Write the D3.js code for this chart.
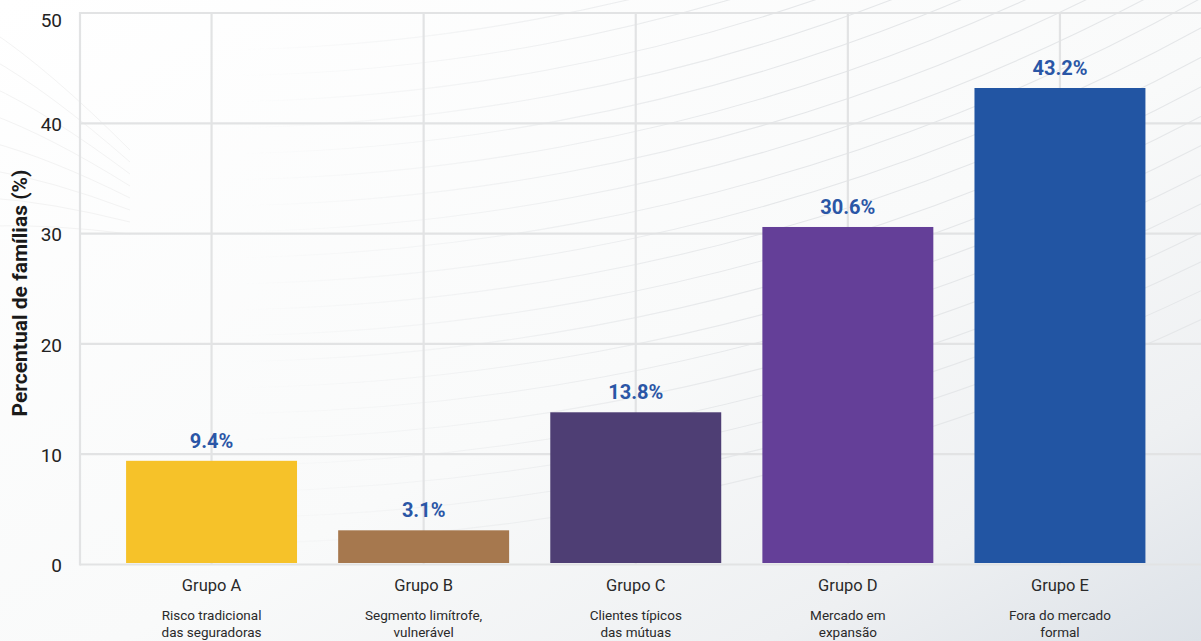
<!DOCTYPE html>
<html><head><meta charset="utf-8">
<script src="https://cdn.jsdelivr.net/npm/d3@7"></script>
<style>
html,body{margin:0;padding:0;overflow:hidden;background:#fff;}
svg{display:block;font-family:Roboto,"Noto Sans",sans-serif;}
</style></head>
<body>
<svg id="chart" width="1201" height="641"></svg>
<script>
const categories = ["Grupo A","Grupo B","Grupo C","Grupo D","Grupo E"];
const subLabels = [["Risco tradicional","das seguradoras"],["Segmento limítrofe,","vulnerável"],["Clientes típicos","das mútuas"],["Mercado em","expansão"],["Fora do mercado","formal"]];
const values = [9.4, 3.1, 13.8, 30.6, 43.2];
const valueLabels = ["9.4%","3.1%","13.8%","30.6%","43.2%"];
const colors = ["#F6C229","#A6784E","#4E3E74","#643F98","#2255A3"];
const yTicks = [0,10,20,30,40,50];
const yTitle = "Percentual de famílias (%)";

const W = 1201, H = 641;
const svg = d3.select("#chart");
const defs = svg.append("defs");
const grad = defs.append("linearGradient").attr("id","bg").attr("x1","0").attr("y1","0").attr("x2","1").attr("y2","1");
grad.append("stop").attr("offset","0").attr("stop-color","#ffffff");
grad.append("stop").attr("offset","0.55").attr("stop-color","#f9fafa");
grad.append("stop").attr("offset","0.82").attr("stop-color","#eef0f2");
grad.append("stop").attr("offset","1").attr("stop-color","#dde2e8");
svg.append("rect").attr("width",W).attr("height",H).attr("fill","url(#bg)");

const mg = defs.append("linearGradient").attr("id","fade").attr("x1","0").attr("y1","0").attr("x2","1").attr("y2","0");
mg.append("stop").attr("offset","0.2").attr("stop-color","#000");
mg.append("stop").attr("offset","0.65").attr("stop-color","#fff");
mg.append("stop").attr("offset","1").attr("stop-color","#fff");
defs.append("mask").attr("id","fm").append("rect").attr("width",W).attr("height",H).attr("fill","url(#fade)");

const deco = svg.append("g").attr("mask","url(#fm)").attr("fill","none").attr("stroke","#e5e7e9").attr("stroke-width",1.1);
d3.range(1850, 2350, 26).forEach(r => {
  deco.append("circle").attr("cx",200).attr("cy",-1800).attr("r",r);
});
const deco2 = svg.append("g").attr("fill","none").attr("stroke","#f3f3f3").attr("stroke-width",1);
d3.range(8).forEach(i => {
  deco2.append("path").attr("d", `M -10 ${30 + i*28} Q 50 ${70 + i*22} 130 ${150 + i*12}`);
});

const y = d3.scaleLinear().domain([0,50]).range([564.5, 13]);
const x = d3.scaleBand().domain(categories).range([105.5,1166]).paddingInner(0.194).paddingOuter(0.097);

const grid = svg.append("g").attr("stroke","#e2e3e4").attr("stroke-width",2.2);
yTicks.forEach(t => {
  grid.append("line").attr("x1",80).attr("x2",W).attr("y1",y(t)).attr("y2",y(t));
});
grid.append("line").attr("x1",80).attr("x2",80).attr("y1",y(50)-1).attr("y2",y(0)+1);
categories.forEach(c => {
  const cx = x(c) + x.bandwidth()/2;
  grid.append("line").attr("x1",cx).attr("x2",cx).attr("y1",y(50)).attr("y2",y(0));
});

svg.append("g").selectAll("text").data(yTicks).join("text")
  .attr("x",62).attr("y",d=> d===50 ? y(d)+7 : y(d)+1).attr("dy","0.35em")
  .attr("text-anchor","end").attr("font-size",19).attr("fill","#222")
  .text(d=>d);

svg.append("text").attr("transform",`translate(27,${293}) rotate(-90)`)
  .attr("text-anchor","middle").attr("font-size",21).attr("font-weight","bold").attr("fill","#1a1a1a")
  .text(yTitle);

svg.append("g").selectAll("rect").data(values).join("rect")
  .attr("x",(d,i)=>x(categories[i])).attr("width",x.bandwidth())
  .attr("y",d=>y(d)).attr("height",d=>y(0)-1.5-y(d))
  .attr("fill",(d,i)=>colors[i]);

svg.append("g").selectAll("text").data(values).join("text")
  .attr("x",(d,i)=>x(categories[i])+x.bandwidth()/2).attr("y",d=>y(d)-13)
  .attr("text-anchor","middle").attr("font-size",20).attr("font-weight","bold").attr("fill","#2A56A6")
  .text((d,i)=>valueLabels[i]);

const cat = svg.append("g");
categories.forEach((c,i) => {
  const cx = x(c) + x.bandwidth()/2;
  cat.append("text").attr("x",cx).attr("y",591).attr("text-anchor","middle").attr("font-size",16.5).attr("fill","#2a2a2a").text(c);
  subLabels[i].forEach((s,j) => {
    cat.append("text").attr("x",cx).attr("y",620 + j*17).attr("text-anchor","middle").attr("font-size",13.5).attr("fill","#2a2a2a").text(s);
  });
});
</script>
</body></html>
